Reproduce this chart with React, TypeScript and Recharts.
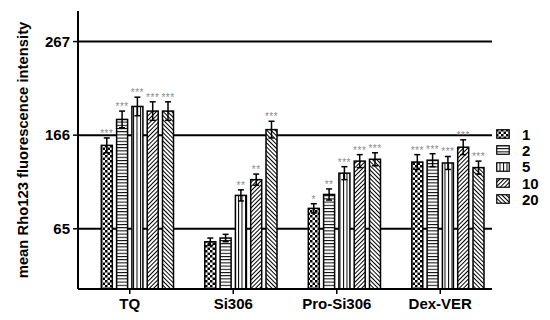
import { BarChart, Bar, XAxis, YAxis, CartesianGrid, ErrorBar } from "recharts";

const GROUPS = ["TQ", "Si306", "Pro-Si306", "Dex-VER"];
const SERIES = ["1", "2", "5", "10", "20"];

const S1 = [155, 51, 87, 137];
const S2 = [183, 55, 102, 139];
const S5 = [197, 101, 125, 136];
const S10 = [192, 118, 138, 153];
const S20 = [192, 172, 140, 131];

const E1 = [8, 4, 5, 8];
const E2 = [9, 4, 6, 7];
const E5 = [10, 6, 7, 7];
const E10 = [10, 6, 7, 8];
const E20 = [10, 9, 7, 7];

const SIG1 = ["***", "", "*", "***"];
const SIG2 = ["***", "", "**", "***"];
const SIG5 = ["***", "**", "***", "***"];
const SIG10 = ["***", "**", "***", "***"];
const SIG20 = ["***", "***", "***", "***"];

const Y_TICKS = [65, 166, 267];

const VALUES = [S1, S2, S5, S10, S20];
const ERRORS = [E1, E2, E5, E10, E20];
const SIGS = [SIG1, SIG2, SIG5, SIG10, SIG20];

const data = GROUPS.map((g, i) => {
  const row: Record<string, string | number | null> = { name: g, pad: null };
  SERIES.forEach((s, k) => {
    row["v" + s] = VALUES[k][i];
    row["e" + s] = ERRORS[k][i];
    row["sig" + s] = SIGS[k][i];
  });
  return row;
});

const FONT = "'Liberation Sans', Arial, sans-serif";

function Patterns() {
  return (
    <svg width={0} height={0} style={{ position: "absolute" }}>
      <defs>
        <pattern id="pat1" patternUnits="userSpaceOnUse" width={5} height={5}>
          <rect width={5} height={5} fill="#fff" />
          <rect width={2.5} height={2.5} fill="#000" />
          <rect x={2.5} y={2.5} width={2.5} height={2.5} fill="#000" />
        </pattern>
        <pattern id="pat2" patternUnits="userSpaceOnUse" width={4} height={3.2}>
          <rect width={4} height={3.2} fill="#fff" />
          <rect y={0} width={4} height={1} fill="#000" />
        </pattern>
        <pattern id="pat5" patternUnits="userSpaceOnUse" width={3.5} height={4}>
          <rect width={3.5} height={4} fill="#fff" />
          <rect x={0} width={1} height={4} fill="#000" />
        </pattern>
        <pattern id="pat10" patternUnits="userSpaceOnUse" width={3} height={3} patternTransform="rotate(45)">
          <rect width={3} height={3} fill="#fff" />
          <rect width={1} height={3} fill="#000" />
        </pattern>
        <pattern id="pat20" patternUnits="userSpaceOnUse" width={3} height={3} patternTransform="rotate(-45)">
          <rect width={3} height={3} fill="#fff" />
          <rect width={1} height={3} fill="#000" />
        </pattern>
      </defs>
    </svg>
  );
}

// bar with pattern fill + significance stars above the error bar
// eslint-disable-next-line @typescript-eslint/no-explicit-any
function PatternBar(props: any) {
  const { x, y, width, height, payload, series } = props;
  if (!height || height <= 0) return null;
  const v = payload["v" + series] as number;
  const e = payload["e" + series] as number;
  const sig = payload["sig" + series] as string;
  const pxPerUnit = height / v;
  const top = y - e * pxPerUnit;
  return (
    <g>
      <rect x={x} y={y} width={width} height={height} fill={`url(#pat${series})`} stroke="#000" strokeWidth={1.5} />
      {sig ? (
        <text x={x + width / 2} y={top - 1} textAnchor="middle" fontSize={10} fill="#8a8a8a" fontFamily={FONT} letterSpacing={0.5}>
          {sig}
        </text>
      ) : null}
    </g>
  );
}

function LegendBox() {
  return (
    <div style={{ position: "absolute", left: 496, top: 126, fontFamily: FONT, fontWeight: "bold", fontSize: 15 }}>
      {SERIES.map((s) => (
        <div key={s} style={{ display: "flex", alignItems: "center", height: 16.3 }}>
          <svg width={14} height={10} style={{ marginRight: 12 }}>
            <rect x={0.75} y={0.75} width={12.5} height={8.5} fill={`url(#pat${s})`} stroke="#000" strokeWidth={1.2} />
          </svg>
          <span>{s}</span>
        </div>
      ))}
    </div>
  );
}

export default function App() {
  return (
    <div style={{ position: "absolute", left: 0, top: 0, width: 550, height: 320, background: "#fff" }}>
      <Patterns />
      <BarChart width={550} height={320} data={data} margin={{ top: 11, right: 58, left: 0, bottom: 0 }} barSize={11} barGap={4.3}>
        <CartesianGrid vertical={false} stroke="#000" strokeWidth={2} syncWithTicks />
        <XAxis
          dataKey="name"
          height={31}
          axisLine={{ stroke: "#000", strokeWidth: 2 }}
          tickLine={{ stroke: "#000", strokeWidth: 1.5 }}
          tickSize={5}
          tickMargin={4}
          tick={{ fill: "#000", fontSize: 15, fontWeight: "bold", fontFamily: FONT }}
        />
        <YAxis
          domain={[0, 300]}
          ticks={Y_TICKS}
          width={78}
          axisLine={{ stroke: "#000", strokeWidth: 2 }}
          tickLine={{ stroke: "#000", strokeWidth: 1.5 }}
          tickSize={5}
          tickMargin={3}
          tick={{ fill: "#000", fontSize: 15, fontWeight: "bold", fontFamily: FONT }}
          label={{
            value: "mean Rho123 fluorescence intensity",
            angle: -90,
            position: "insideLeft",
            offset: 23,
            style: { textAnchor: "middle", fontWeight: "bold", fontSize: 14.8, fill: "#000", fontFamily: FONT },
          }}
        />
        <Bar dataKey="pad" fill="none" isAnimationActive={false} />
        {SERIES.map((s) => (
          <Bar
            key={s}
            dataKey={"v" + s}
            isAnimationActive={false}
            // eslint-disable-next-line @typescript-eslint/no-explicit-any
            shape={(p: any) => <PatternBar {...p} series={s} />}
          >
            <ErrorBar dataKey={"e" + s} width={3} stroke="#000" strokeWidth={1.5} direction="y" />
          </Bar>
        ))}
      </BarChart>
      <LegendBox />
    </div>
  );
}
